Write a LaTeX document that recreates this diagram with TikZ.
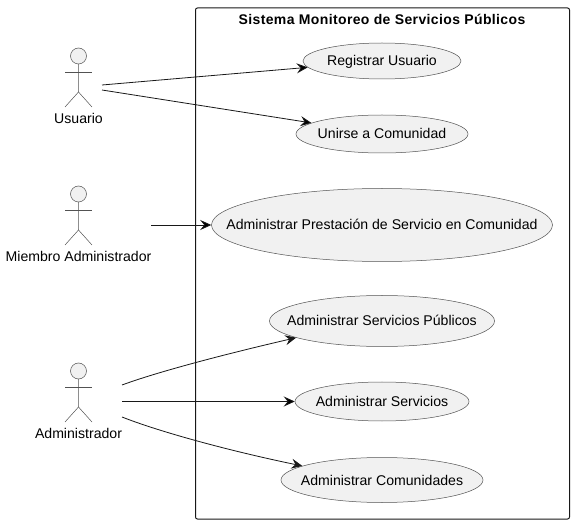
\documentclass[tikz,border=0pt]{standalone}
\usepackage{fontspec}
\setmainfont{Liberation Sans}
\newfontfamily\titlefont[LetterSpace=2.7]{Liberation Sans}
\usetikzlibrary{arrows.meta, shapes.geometric}
\definecolor{umlline}{HTML}{181818}
\definecolor{umlfill}{HTML}{F1F1F1}
\newcommand{\casetext}[1]{\makebox[0pt]{\raisebox{0pt}[10pt][0pt]{#1}}}

\begin{document}
\begin{tikzpicture}[x=1pt,y=-1pt,font=\fontsize{14.1}{16}\selectfont,
	>={Stealth[length=11pt,width=10pt,inset=4pt]},line width=0.5pt]
	
	\tikzset{node case/.style={ellipse, draw=umlline!75,
			fill=umlfill,
			inner sep=0pt}}
	\tikzset{node name/.style={inner sep=0pt,
			text=black}}
	\tikzset{actor/.pic={
			\node[circle, draw=umlline!75, fill=umlfill, inner sep=0pt,
			minimum size=16pt] (-head) {};
			\draw[draw=umlline!75] (-head.south) -- (0,36) -- (-13.5,51);
			\draw[draw=umlline!75] (0,36) -- (13.5,51);
			\draw[draw=umlline!75] (-13.5,16) -- (13.5,16);
	}}
	
	\useasboundingbox (0,0) rectangle (574,524);
	\draw[line width=1pt, draw=umlline, rounded corners=2pt] (195.5,8) rectangle (569.5,519);
	\node[node name, font=\titlefont\fontsize{14}{16}\selectfont\bfseries] (title) at (382,19) {Sistema Monitoreo de Servicios Públicos};
	
	\pic (usuario) at (78.5,56) {actor};
	\pic (miembro) at (78.5,194) {actor};
	\pic (admin) at (78.5,371) {actor};
	\node[node name] (Lusuario) at (78.5,118) {Usuario};
	\node[node name] (Lmiembro) at (78.5,256) {Miembro Administrador};
	\node[node name] (Ladmin) at (78.5,433) {Administrador};
	
	\node[node case, minimum width=158pt, minimum height=36pt] (C1) at (382,61) {\casetext{Registrar Usuario}};
	\node[node case, minimum width=172pt, minimum height=38pt] (C2) at (382,134) {\casetext{Unirse a Comunidad}};
	\node[node case, minimum width=341pt, minimum height=73pt] (C3) at (382,225) {\casetext{Administrar Prestación de Servicio en Comunidad}};
	\node[node case, minimum width=225pt, minimum height=51pt] (C4) at (382,321) {\casetext{Administrar Servicios Públicos}};
	\node[node case, minimum width=174pt, minimum height=39pt] (C5) at (382,401.5) {\casetext{Administrar Servicios}};
	\node[node case, minimum width=202pt, minimum height=45pt] (C6) at (382,480) {\casetext{Administrar Comunidades}};
	
	\coordinate (U1) at (102,85);
	\coordinate (U2) at (102,90);
	\coordinate (M1) at (151,225);
	\coordinate (A1) at (122,385);
	\coordinate (A2) at (122,401.5);
	\coordinate (A3) at (122,417);
	
	\draw[draw=umlline, line width=0.8pt]
	(U1) edge[->] (C1)
	(U2) edge[->] (C2)
	(M1) edge[->] (C3)
	(A2) edge[->] (C5);
	\draw[->, draw=umlline, line width=0.8pt] (A1) .. controls (160,371) and (230,353) .. (C4.191);
	\draw[->, draw=umlline, line width=0.8pt] (A3) .. controls (160,432) and (230,451) .. (C6.170);
\end{tikzpicture}
\end{document}
